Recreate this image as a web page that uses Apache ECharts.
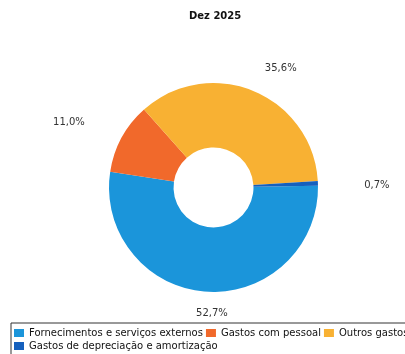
<!DOCTYPE html>
<html>
<head>
<meta charset="utf-8">
<script src="https://cdn.jsdelivr.net/npm/echarts@6/dist/echarts.min.js"></script>
<style>html,body{margin:0;padding:0;background:#fff}#c{width:405px;height:354px}</style>
</head>
<body>
<div id="c"></div>
<script>
const title = 'Dez 2025';
const categories = ['Fornecimentos e serviços externos', 'Gastos com pessoal', 'Outros gastos', 'Gastos de depreciação e amortização'];
const values = [52.7, 11.0, 35.6, 0.7];
const colors = ['#1B95DA', '#F1692B', '#F8B133', '#1560BD'];
// label layout (not data): distance from slice edge and small nudges
const labelLengths = [22, 52, 30, 57];
const labelNudges = [[12, 0], [-2, 10], [11, 5], [-3, 4]];

const chart = echarts.init(document.getElementById('c'));
const fmt = v => v.toFixed(1).replace('.', ',') + '%';
chart.setOption({
  animation: false,
  title: {
    text: title, left: 184, top: 6,
    textStyle: { fontFamily: 'DejaVu Sans', fontSize: 10, fontWeight: 'bold', color: '#111' }
  },
  legend: {
    data: categories,
    left: 11, top: 323, width: 440,
    orient: 'horizontal',
    icon: 'rect', itemWidth: 10, itemHeight: 8, itemGap: 3,
    padding: [5, 3, 5, 3],
    borderColor: '#333', borderWidth: 1, borderRadius: 0,
    textStyle: { fontFamily: 'DejaVu Sans', fontSize: 10, color: '#111' }
  },
  series: [{
    type: 'pie',
    center: [213.5, 187.5],
    radius: [40, 104.5],
    startAngle: 1,
    clockwise: true,
    avoidLabelOverlap: false,
    label: {
      show: true, position: 'outside',
      fontFamily: 'DejaVu Sans', fontSize: 10, color: '#333',
      formatter: p => fmt(p.value)
    },
    labelLine: { show: false, length2: 0 },
    labelLayout: p => ({
      align: 'center', verticalAlign: 'middle',
      dx: labelNudges[p.dataIndex][0], dy: labelNudges[p.dataIndex][1]
    }),
    emphasis: { disabled: true },
    data: categories.map((c, i) => ({
      name: c, value: values[i],
      itemStyle: { color: colors[i] },
      labelLine: { show: false, length: labelLengths[i], length2: 0 }
    }))
  }]
});
</script>
</body>
</html>
